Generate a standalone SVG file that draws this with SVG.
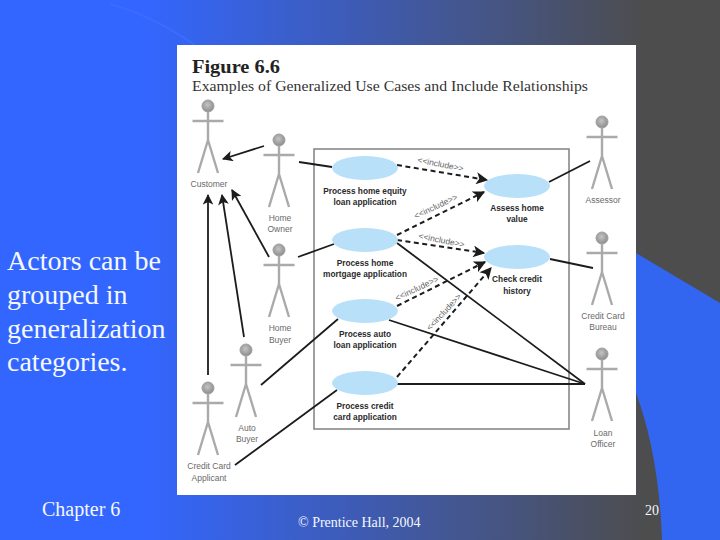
<svg xmlns="http://www.w3.org/2000/svg" width="720" height="540" viewBox="0 0 720 540">
<style>
.slide{font-family:"Liberation Serif","Times New Roman",serif;fill:#f4f8ff}
.lbl{font-family:"Liberation Sans",Arial,sans-serif;font-size:8.500px;fill:#6a6a6a;text-anchor:middle}
.uc{font-family:"Liberation Sans",Arial,sans-serif;font-size:8.300px;font-weight:bold;fill:#2a2a2a;text-anchor:middle}
.inc{font-family:"Liberation Sans",Arial,sans-serif;font-size:8.500px;fill:#666;text-anchor:middle}
.ell{fill:#b8e1f9}
.limb{fill:none;stroke:#aaa;stroke-width:2.400}
.solid{fill:none;stroke:#1c1c1c;stroke-width:1.800}
.dash{fill:none;stroke:#1c1c1c;stroke-width:2;stroke-dasharray:5 3.500}
</style>
<defs>
<linearGradient id="bg" x1="0" x2="1" y1="0" y2="0">
<stop offset="0.2" stop-color="#3366ff"/><stop offset="0.9" stop-color="#4d4d4d"/>
</linearGradient>
<radialGradient id="head" cx="0.45" cy="0.4" r="0.6"><stop offset="0" stop-color="#c4c4c4"/><stop offset="1" stop-color="#8c8c8c"/></radialGradient>
<marker id="arr" viewBox="0 0 10 10" refX="9" refY="5" markerWidth="7" markerHeight="6" markerUnits="strokeWidth" orient="auto"><path d="M0 0L10 5L0 10L2.500 5Z" fill="#1c1c1c"/></marker>
<g id="actor">
<circle cx="0" cy="0" r="6" fill="url(#head)" stroke="#a0a0a0"/>
<path class="limb" d="M-15.500 15H15.500M0 6V34M0 34L-10 67M0 34L10 67"/>
</g>
</defs>
<rect width="720" height="540" fill="url(#bg)"/>
<path d="M636 253L720 303V540H662C660 480 650 430 636 393Z" fill="#3366f0"/>
<path d="M110 4C140 12 170 28 195 45" fill="none" stroke="#3a6cff" stroke-width="2"/>
<rect x="177" y="45" width="459" height="450" fill="#fff"/>
<text x="192" y="73" font-family="Liberation Serif,serif" font-size="18" font-weight="bold" fill="#222" textLength="88" lengthAdjust="spacingAndGlyphs">Figure 6.6</text>
<text x="192" y="91" font-family="Liberation Serif,serif" font-size="14" fill="#333" textLength="396" lengthAdjust="spacingAndGlyphs">Examples of Generalized Use Cases and Include Relationships</text>
<rect id="system-boundary" x="314" y="149" width="255" height="280" fill="none" stroke="#808080" stroke-width="1.500"/>

<g id="connectors">
<path class="solid" marker-end="url(#arr)" d="M264 146L223 159"/>
<path class="solid" marker-end="url(#arr)" d="M269 257L232 190"/>
<path class="solid" marker-end="url(#arr)" d="M244 337L222 195"/>
<path class="solid" marker-end="url(#arr)" d="M208 375V195"/>
<path class="solid" d="M299 162L332 167"/>
<path class="solid" d="M298 257L334 244"/>
<path class="solid" d="M261 385L338 319"/>
<path class="solid" d="M235 465L337 390"/>
<path class="solid" d="M549 182L590 161"/>
<path class="solid" d="M550 259L593 268"/>
<path class="solid" d="M397 243L585 384"/>
<path class="solid" d="M389 320L585 384"/>
<path class="solid" d="M397 384H585"/>
<path class="dash" marker-end="url(#arr)" d="M397 165L487 180"/>
<path class="dash" marker-end="url(#arr)" d="M397 235L484 192"/>
<path class="dash" marker-end="url(#arr)" d="M397 240L484 253"/>
<path class="dash" marker-end="url(#arr)" d="M397 306L485 262"/>
<path class="dash" marker-end="url(#arr)" d="M397 377L491 268"/>
<text class="inc" transform="translate(440 167) rotate(11)">&lt;&lt;include&gt;&gt;</text>
<text class="inc" transform="translate(437 209) rotate(-25)">&lt;&lt;include&gt;&gt;</text>
<text class="inc" transform="translate(441 243) rotate(11)">&lt;&lt;include&gt;&gt;</text>
<text class="inc" transform="translate(418 291) rotate(-25)">&lt;&lt;include&gt;&gt;</text>
<text class="inc" transform="translate(446 314) rotate(-47)">&lt;&lt;include&gt;&gt;</text>
</g>

<g id="actor-customer"><use href="#actor" x="208" y="106"/><text class="lbl" x="209" y="187">Customer</text></g>
<g id="actor-home-owner"><use href="#actor" x="279" y="140"/><text class="lbl" x="280" y="221">Home</text><text class="lbl" x="280" y="232">Owner</text></g>
<g id="actor-home-buyer"><use href="#actor" x="279" y="250"/><text class="lbl" x="280" y="331">Home</text><text class="lbl" x="280" y="343">Buyer</text></g>
<g id="actor-auto-buyer"><use href="#actor" x="246" y="350"/><text class="lbl" x="247" y="431">Auto</text><text class="lbl" x="247" y="442">Buyer</text></g>
<g id="actor-credit-card-applicant"><use href="#actor" x="208" y="388"/><text class="lbl" x="209" y="469">Credit Card</text><text class="lbl" x="209" y="481">Applicant</text></g>
<g id="actor-assessor"><use href="#actor" x="602" y="122"/><text class="lbl" x="603" y="203">Assessor</text></g>
<g id="actor-credit-card-bureau"><use href="#actor" x="602" y="238"/><text class="lbl" x="603" y="319">Credit Card</text><text class="lbl" x="603" y="330">Bureau</text></g>
<g id="actor-loan-officer"><use href="#actor" x="602" y="354"/><text class="lbl" x="603" y="436">Loan</text><text class="lbl" x="603" y="447">Officer</text></g>

<g id="uc-home-equity"><ellipse class="ell" cx="365" cy="168" rx="33" ry="12"/><text class="uc" x="365" y="194">Process home equity</text><text class="uc" x="365" y="205">loan application</text></g>
<g id="uc-home-mortgage"><ellipse class="ell" cx="365" cy="240" rx="33" ry="12"/><text class="uc" x="365" y="266">Process home</text><text class="uc" x="365" y="277">mortgage application</text></g>
<g id="uc-auto-loan"><ellipse class="ell" cx="365" cy="311" rx="33" ry="12"/><text class="uc" x="365" y="337">Process auto</text><text class="uc" x="365" y="348">loan application</text></g>
<g id="uc-credit-card"><ellipse class="ell" cx="365" cy="383" rx="33" ry="12"/><text class="uc" x="365" y="409">Process credit</text><text class="uc" x="365" y="420">card application</text></g>
<g id="uc-assess-home"><ellipse class="ell" cx="517" cy="186" rx="33" ry="12"/><text class="uc" x="517" y="211">Assess home</text><text class="uc" x="517" y="222">value</text></g>
<g id="uc-check-credit"><ellipse class="ell" cx="517" cy="257" rx="33" ry="12"/><text class="uc" x="517" y="282">Check credit</text><text class="uc" x="517" y="294">history</text></g>

<g class="slide">
<text x="7" y="270" font-size="28">Actors can be</text>
<text x="7" y="304" font-size="28">grouped in</text>
<text x="7" y="338" font-size="28">generalization</text>
<text x="7" y="371" font-size="28">categories.</text>
<text x="42" y="516" font-size="20">Chapter 6</text>
<text x="298" y="527" font-size="14">© Prentice Hall, 2004</text>
<text x="645" y="515" font-size="14">20</text>
</g>
</svg>
